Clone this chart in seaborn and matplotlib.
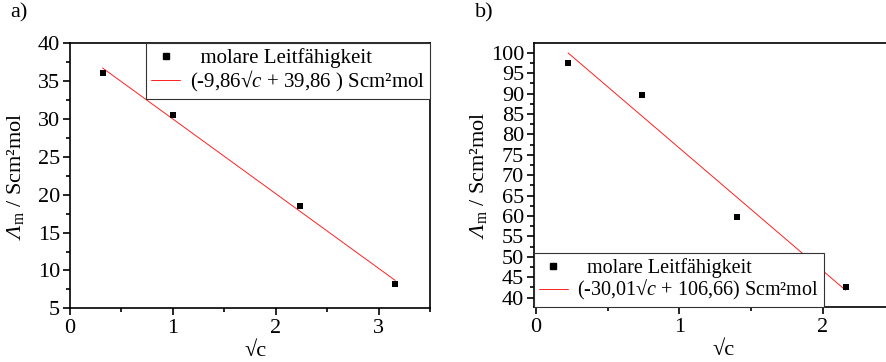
import matplotlib
matplotlib.use("Agg")
import matplotlib.pyplot as plt
from matplotlib.lines import Line2D
from matplotlib.font_manager import FontProperties
from matplotlib.ticker import MultipleLocator, AutoMinorLocator
import numpy as np
import seaborn as sns

# Messwerte: Wurzel der Konzentration und molare Leitfähigkeit
sqrt_c_a = [0.316, 1.0, 2.236, 3.162]
lambda_a = [36.1, 30.5, 18.5, 8.2]
slope_a, intercept_a = -9.86, 39.86

sqrt_c_b = [0.224, 0.74, 1.40, 2.16]
lambda_b = [97.4, 89.6, 59.8, 42.7]
slope_b, intercept_b = -30.01, 106.66

label_points = "molare Leitfähigkeit"
label_fit_a = r"(-9,86√$c$ + 39,86 ) Scm²mol"
label_fit_b = r"(-30,01√$c$ + 106,66) Scm²mol"
# custom math font: rm is italic (for the Lambda), sf is upright (subscript)
ylabel = r"$\Lambda_\mathsf{m}$ / Scm²mol"
xlabel = "√c"

sns.set_theme(style="ticks")
plt.rcParams.update({
    "font.family": ["Liberation Serif", "DejaVu Serif"],
    "mathtext.fontset": "custom",
    "mathtext.rm": "Liberation Serif:italic",
    "mathtext.it": "Liberation Serif:italic",
    "mathtext.sf": "Liberation Serif",
    "mathtext.bf": "Liberation Serif:bold",
    "font.size": 16,
    "axes.linewidth": 1.2,
    "xtick.direction": "out",
    "ytick.direction": "out",
    "xtick.major.size": 4.8,
    "ytick.major.size": 4.8,
    "xtick.minor.size": 2.8,
    "ytick.minor.size": 2.8,
    "xtick.major.width": 1.2,
    "ytick.major.width": 1.2,
    "xtick.minor.width": 1.2,
    "ytick.minor.width": 1.2,
    "xtick.labelsize": 16,
    "ytick.labelsize": 16,
    "axes.labelsize": 16,
    "xtick.color": "black",
    "ytick.color": "black",
    "axes.edgecolor": "black",
    "axes.labelcolor": "black",
    "text.color": "black",
})

W, H = 887, 362
fig = plt.figure(figsize=(W / 100, H / 100), dpi=100)
ax_a = fig.add_axes([70 / W, (H - 308.3) / H, 360 / W, 265 / H])
ax_b = fig.add_axes([534.3 / W, (H - 307.3) / H, 360 / W, 264.6 / H])


def legend_font(size):
    return FontProperties(family=["Liberation Serif", "DejaVu Serif"],
                          size=size, math_fontfamily="custom")


def draw_panel(ax, xs, ys, slope, intercept, fit_label):
    sns.scatterplot(x=xs, y=ys, marker="s", s=22, color="black",
                    edgecolor="black", linewidth=0, ax=ax, zorder=3)
    x_fit = np.array([min(xs), max(xs)])
    sns.lineplot(x=x_fit, y=slope * x_fit + intercept, color="#ff2020",
                 linewidth=0.7, ax=ax, zorder=2)
    handles = [
        Line2D([], [], marker="s", ls="", color="black", markersize=4.6),
        Line2D([], [], color="#ff2020", linewidth=0.7),
    ]
    labels = ["  " + label_points, fit_label]
    return handles, labels


legend_kw = dict(borderaxespad=0, frameon=True, fancybox=False,
                 edgecolor="#333333", framealpha=1,
                 handlelength=1.4, handletextpad=0.45, borderpad=0.25,
                 labelspacing=0.02)

h, l = draw_panel(ax_a, sqrt_c_a, lambda_a, slope_a, intercept_a, label_fit_a)
leg_a = ax_a.legend(h, l, loc="upper right", bbox_to_anchor=(1, 1),
                    prop=legend_font(15), **legend_kw)
leg_a.get_frame().set_linewidth(0.8)
ax_a.set_xlim(0, 3.5)
ax_a.set_ylim(5, 40)
ax_a.xaxis.set_major_locator(MultipleLocator(1))
ax_a.yaxis.set_major_locator(MultipleLocator(5))
ax_a.set_ylabel(ylabel, labelpad=8)
ax_a.set_xlabel(xlabel, labelpad=2.5, x=0.514)

h, l = draw_panel(ax_b, sqrt_c_b, lambda_b, slope_b, intercept_b, label_fit_b)
leg_b = ax_b.legend(h, l, loc="lower left", bbox_to_anchor=(0, 0),
                    prop=legend_font(14.5), **legend_kw)
leg_b.get_frame().set_linewidth(0.8)
ax_b.set_xlim(-0.012, 2.5)
ax_b.set_ylim(37.65, 102.45)
ax_b.xaxis.set_major_locator(MultipleLocator(1))
ax_b.yaxis.set_major_locator(MultipleLocator(5))
ax_b.set_ylabel(ylabel, labelpad=1)
ax_b.set_xlabel(xlabel, labelpad=2.5, x=0.525)

for ax in (ax_a, ax_b):
    ax.xaxis.set_minor_locator(AutoMinorLocator(2))
    ax.yaxis.set_minor_locator(AutoMinorLocator(2))
    ax.tick_params(axis="both", which="both", top=False, right=False)
    ax.tick_params(axis="y", pad=2.5)
    ax.tick_params(axis="x", pad=3)
    for side in ("top", "right"):
        ax.spines[side].set_visible(True)

fig.text(10 / W, 1 - 3 / H, "a)", va="top", ha="left", fontsize=16)
fig.text(475 / W, 1 - 3 / H, "b)", va="top", ha="left", fontsize=16)

fig.savefig("out.png", dpi=100)
